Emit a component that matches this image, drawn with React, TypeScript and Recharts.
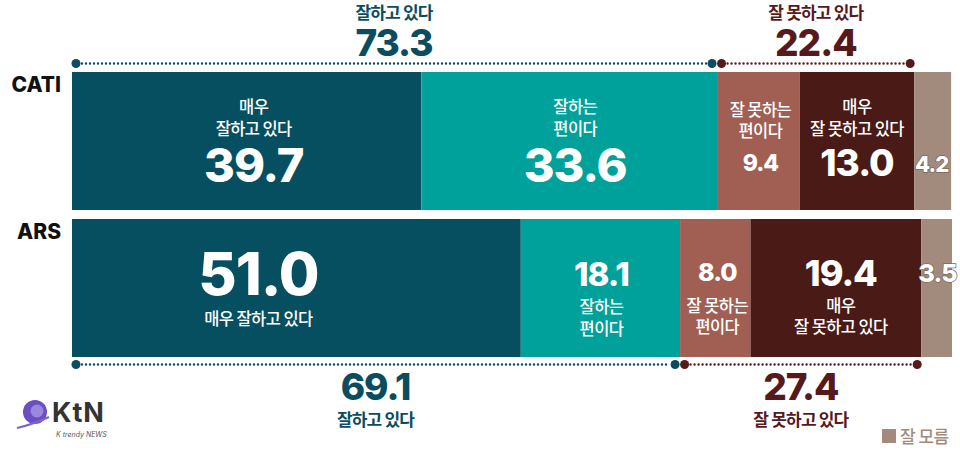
import { Bar, BarChart, LabelList, XAxis, YAxis } from "recharts";

const categories = ["CATI", "ARS"];
const veryGood = [39.7, 51.0];
const good = [33.6, 18.1];
const bad = [9.4, 8.0];
const veryBad = [13.0, 19.4];
const dontKnow = [4.2, 3.5];
const positiveTotal = [73.3, 69.1];
const negativeTotal = [22.4, 27.4];

const data = categories.map((name, i) => ({
  name,
  veryGood: veryGood[i],
  good: good[i],
  bad: bad[i],
  veryBad: veryBad[i],
  dontKnow: dontKnow[i],
}));

const C = {
  veryGood: "#054f60",
  good: "#00a19a",
  bad: "#a15f54",
  veryBad: "#4a1a16",
  dontKnow: "#a28b7d",
  posText: "#0b4d5e",
  negText: "#561a1c",
};

const KR = '"Noto Sans CJK KR", "Noto Sans", sans-serif';
const NUM = 'Inter, "Noto Sans", sans-serif';

// 세그먼트 안쪽 라벨 배치 (막대 중심 기준 오프셋)
type Layout = { lines: string[]; lineDy: number[]; valueDy: number; size: number; dx: number };

const layouts: Record<string, Layout[]> = {
  veryGood: [
    { lines: ["매우", "잘하고 있다"], lineDy: [-34, -12], valueDy: 24, size: 47, dx: 7 },
    { lines: ["매우 잘하고 있다"], lineDy: [30.5], valueDy: -14, size: 59, dx: -38 },
  ],
  good: [
    { lines: ["잘하는", "편이다"], lineDy: [-34, -12], valueDy: 24, size: 47, dx: 6 },
    { lines: ["잘하는", "편이다"], lineDy: [18.5, 40.5], valueDy: -13.5, size: 33, dx: 1 },
  ],
  bad: [
    { lines: ["잘 못하는", "편이다"], lineDy: [-31.5, -10.5], valueDy: 22, size: 23, dx: 2 },
    { lines: ["잘 못하는", "편이다"], lineDy: [18, 39], valueDy: -16.5, size: 25, dx: 2 },
  ],
  veryBad: [
    { lines: ["매우", "잘 못하고 있다"], lineDy: [-34, -12], valueDy: 22, size: 37, dx: 0 },
    { lines: ["매우", "잘 못하고 있다"], lineDy: [18, 39], valueDy: -14.5, size: 36, dx: 5 },
  ],
  dontKnow: [
    { lines: [], lineDy: [], valueDy: 23.5, size: 22, dx: -1 },
    { lines: [], lineDy: [], valueDy: -15.5, size: 25, dx: 1 },
  ],
};

function box(p: any) {
  const vb = p.viewBox || {};
  return {
    x: Number(p.x ?? vb.x),
    y: Number(p.y ?? vb.y),
    w: Number(p.width ?? vb.width),
    h: Number(p.height ?? vb.height),
  };
}

function Bracket({ x1, x2, y, color }: { x1: number; x2: number; y: number; color: string }) {
  return (
    <g>
      <line x1={x1 + 6} x2={x2 - 6} y1={y} y2={y} stroke={color} strokeWidth={2.4} strokeDasharray="0 4" strokeLinecap="round" />
      <circle cx={x1} cy={y} r={4.5} fill={color} />
      <circle cx={x2} cy={y} r={4.5} fill={color} />
    </g>
  );
}

function TotalText({ cx, labelY, numY, label, value, color }: any) {
  return (
    <g>
      <text x={cx} y={labelY + 6.5} textAnchor="middle" fill={color} fontFamily={KR} fontWeight={700} fontSize={17} letterSpacing={-0.8}>
        {label}
      </text>
      <text x={cx} y={numY + 13} textAnchor="middle" fill={color} fontFamily={NUM} fontWeight={800} fontSize={37} letterSpacing={-1}>
        {value.toFixed(1)}
      </text>
    </g>
  );
}

function makeLabel(key: string) {
  return (p: any) => {
    const i = Number(p.index ?? 0);
    const { x, y, w, h } = box(p);
    const value = Number(p.value);
    const lay = layouts[key][i];
    const cx = x + w / 2 + lay.dx;
    const cy = y + h / 2;
    const isDK = key === "dontKnow";
    const parts = [];
    lay.lines.forEach((t, k) => {
      parts.push(
        <text key={"l" + k} x={cx} y={cy + lay.lineDy[k] + 6} textAnchor="middle" fill="#fff" fontFamily={KR} fontWeight={500} fontSize={16.5} letterSpacing={-0.6}>
          {t}
        </text>
      );
    });
    parts.push(
      <text
        key="v"
        x={cx}
        y={cy + lay.valueDy + lay.size * 0.36}
        textAnchor="middle"
        fill="#fff"
        fontFamily={NUM}
        fontWeight={800}
        fontSize={lay.size}
        letterSpacing={-1}
        stroke={isDK ? "#7d685c" : undefined}
        strokeWidth={isDK ? 1.5 : undefined}
        style={isDK ? { paintOrder: "stroke" } : undefined}
      >
        {value.toFixed(1)}
      </text>
    );

    // 합계 괄호선: 첫 세그먼트에서 스케일(px/단위)을 구해 그린다
    if (key === "veryGood") {
      const ppu = w / value;
      const xPosEnd = x + positiveTotal[i] * ppu;
      const xNegEnd = xPosEnd + negativeTotal[i] * ppu;
      const top = i === 0;
      const by = top ? y - 8.5 : y + h + 7.5;
      const posMid = (x + 4 + xPosEnd - 5) / 2;
      const negMid = (xPosEnd + 4.5 + xNegEnd - 4) / 2;
      parts.push(
        <g key="br">
          <Bracket x1={x + 4} x2={xPosEnd - 5} y={by} color={C.posText} />
          <Bracket x1={xPosEnd + 4.5} x2={xNegEnd - 4} y={by} color={C.negText} />
          <TotalText cx={posMid} labelY={top ? 12 : 419} numY={top ? 42.5 : 387} label="잘하고 있다" value={positiveTotal[i]} color={C.posText} />
          <TotalText cx={negMid} labelY={top ? 12 : 419} numY={top ? 42.5 : 387} label="잘 못하고 있다" value={negativeTotal[i]} color={C.negText} />
        </g>
      );
    }
    return <g>{parts}</g>;
  };
}

function CategoryTick(p: any) {
  return (
    <text x={61} y={p.y - 56 + 7.5} textAnchor="end" fill="#111" fontFamily={NUM} fontWeight={800} fontSize={21}>
      {p.payload.value}
    </text>
  );
}

function Logo() {
  return (
    <svg width={110} height={50} style={{ position: "absolute", left: 14, top: 392 }}>
      <circle cx={21} cy={20} r={12} fill="#6a4fc0" />
      <circle cx={23} cy={19} r={6.5} fill="#9b86e0" />
      <path d="M3 36 Q 20 32 35 25" stroke="#7b62cc" strokeWidth={2} fill="none" />
      <text x={38} y={30} fill="#333" fontFamily={NUM} fontWeight={700} fontSize={27} letterSpacing={1}>
        KtN
      </text>
      <text x={42} y={45} fill="#555" fontFamily={NUM} fontSize={7} fontStyle="italic">
        K trendy NEWS
      </text>
    </svg>
  );
}

export default function App() {
  const keys = ["veryGood", "good", "bad", "veryBad", "dontKnow"] as const;
  return (
    <div style={{ position: "absolute", left: 0, top: 0, width: 960, height: 450, background: "#fff", overflow: "hidden" }}>
      <BarChart
        width={960}
        height={450}
        data={data}
        layout="vertical"
        margin={{ top: 67, right: 8, bottom: 89, left: 0 }}
        barCategoryGap={0}
      >
        <XAxis type="number" domain={[0, 100]} hide />
        <YAxis type="category" dataKey="name" width={72} axisLine={false} tickLine={false} tick={<CategoryTick />} />
        {keys.map((k) => (
          <Bar key={k} dataKey={k} stackId="a" fill={C[k]} barSize={138} isAnimationActive={false}>
            <LabelList dataKey={k} content={makeLabel(k)} />
          </Bar>
        ))}
      </BarChart>
      <Logo />
      <div
        style={{
          position: "absolute",
          left: 882,
          top: 425,
          width: 76,
          whiteSpace: "nowrap",
          lineHeight: "22px",
          fontFamily: KR,
          fontSize: 17,
          fontWeight: 500,
          color: "#a28b7d",
          display: "flex",
          alignItems: "center",
          letterSpacing: -0.5,
        }}
      >
        <span style={{ display: "inline-block", width: 14, height: 14, background: "#a28b7d", marginRight: 4 }} />
        잘 모름
      </div>
    </div>
  );
}
